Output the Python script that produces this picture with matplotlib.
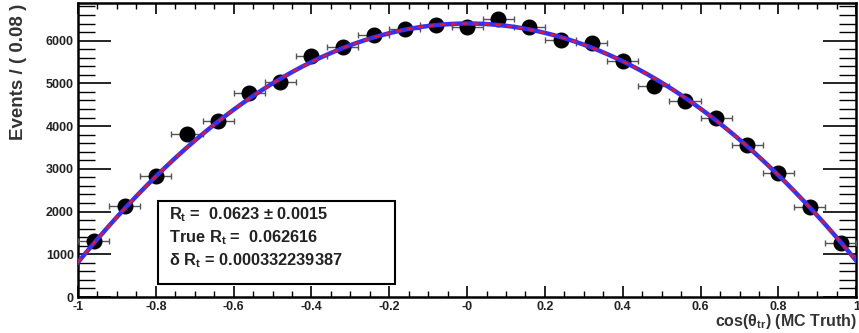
import numpy as np
import matplotlib
matplotlib.use("Agg")
import matplotlib.pyplot as plt
from matplotlib.ticker import MultipleLocator
from matplotlib.patches import Rectangle

# ---- data ----
bin_centers = [-0.96, -0.88, -0.80, -0.72, -0.64, -0.56, -0.48, -0.40, -0.32, -0.24,
               -0.16, -0.08, 0.00, 0.08, 0.16, 0.24, 0.32, 0.40, 0.48, 0.56,
               0.64, 0.72, 0.80, 0.88, 0.96]
events = [1300, 2120, 2830, 3810, 4115, 4770, 5030, 5640, 5850, 6130,
          6270, 6360, 6320, 6500, 6320, 6010, 5940, 5520, 4930, 4580,
          4185, 3550, 2900, 2100, 1260]
bin_half_width = 0.04
fit_coeffs = [-5570.0, 18.0, 6400.0]   # quadratic fit: a2, a1, a0
y_ticks = [0, 1000, 2000, 3000, 4000, 5000, 6000]
x_ticks = [-1, -0.8, -0.6, -0.4, -0.2, 0, 0.2, 0.4, 0.6, 0.8, 1]
x_tick_labels = ["-1", "-0.8", "-0.6", "-0.4", "-0.2", "-0", "0.2", "0.4", "0.6", "0.8", "1"]
stat_lines = [r"$\mathbf{R_t}$ =  0.0623 ± 0.0015",
              r"True $\mathbf{R_t}$ =  0.062616",
              r"δ $\mathbf{R_t}$ = 0.000332239387"]

plt.rcParams['font.family'] = ['Liberation Sans', 'DejaVu Sans']
plt.rcParams['mathtext.fontset'] = 'custom'
plt.rcParams['mathtext.rm'] = 'Liberation Sans:bold'
plt.rcParams['mathtext.bf'] = 'Liberation Sans:bold'
plt.rcParams['mathtext.it'] = 'Liberation Sans:bold'

fig = plt.figure(figsize=(8.59, 3.33), dpi=100)
ax = fig.add_axes([0.0908, 0.108, 0.906, 0.883])

x = np.array(bin_centers)
y = np.array(events)
yerr = np.sqrt(y)

ax.errorbar(x, y, xerr=bin_half_width, yerr=yerr, fmt='o', color='black',
            ecolor='#555555', elinewidth=1.0, capsize=2, capthick=1.0,
            markersize=10.5, zorder=3)

xc = np.linspace(-1, 1, 400)
yc = np.polyval(fit_coeffs, xc)
ax.plot(xc, yc, color='#3030ff', lw=3.2, zorder=4)
ax.plot(xc, yc, color='#ff1010', lw=1.6, ls=(0, (2.5, 2.5)), zorder=5)

ax.set_xlim(-1, 1)
ax.set_ylim(0, 6880)

ax.set_xticks(x_ticks)
ax.set_xticklabels(x_tick_labels)
ax.set_yticks(y_ticks)
ax.xaxis.set_minor_locator(MultipleLocator(0.05))
ax.yaxis.set_minor_locator(MultipleLocator(200))

ax.tick_params(axis='x', which='major', direction='in', length=8, width=1.2,
               top=True, bottom=True, pad=3, labelsize=9)
ax.tick_params(axis='x', which='minor', direction='in', length=4, width=1.0,
               top=True, bottom=True)
ax.tick_params(axis='y', which='major', direction='in', length=24, width=1.2,
               left=True, right=True, pad=3, labelsize=9)
ax.tick_params(axis='y', which='minor', direction='in', length=12, width=1.0,
               left=True, right=True)
for lab in ax.get_xticklabels() + ax.get_yticklabels():
    lab.set_fontweight('bold')
    lab.set_color('#222222')

for sp in ax.spines.values():
    sp.set_linewidth(1.8)

fig.text(0.022, 0.99, "Events / ( 0.08 )", rotation=90, ha='center', va='top',
         fontsize=13.5, fontweight='bold', color='#333333')
fig.text(0.997, 0.005, r"cos($\theta_{tr}$) (MC Truth)", ha='right', va='bottom',
         fontsize=11.5, fontweight='bold', color='#333333')

# stats box
box = Rectangle((0.103, 0.044), 0.304, 0.283, transform=ax.transAxes,
                facecolor='white', edgecolor='black', lw=1.5, zorder=6)
ax.add_patch(box)
for i, s in enumerate(stat_lines):
    ax.text(0.117, 0.281 - i * 0.079, s, transform=ax.transAxes, ha='left', va='center',
            fontsize=11.8, fontweight='bold', color='#222222', zorder=7)

fig.savefig("out.png", dpi=100)
